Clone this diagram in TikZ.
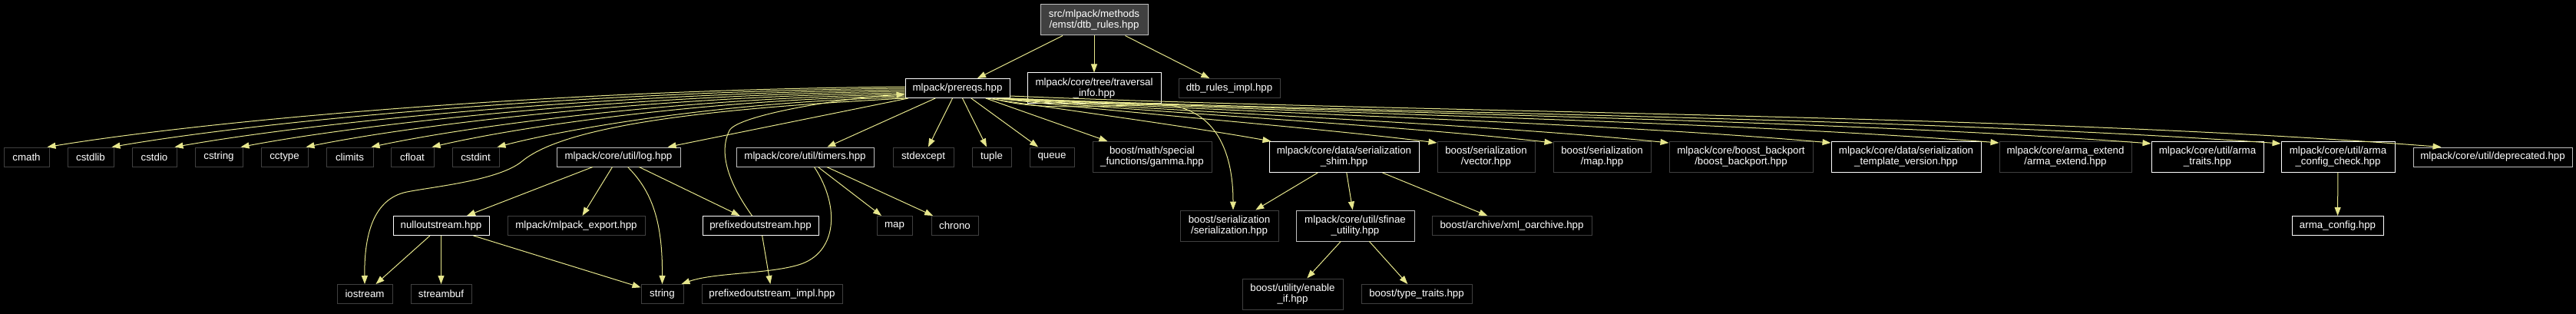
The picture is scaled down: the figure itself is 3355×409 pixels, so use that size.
\documentclass[tikz,border=0pt]{standalone}
\usepackage{fontspec}
\setmainfont{Liberation Sans}
\usetikzlibrary{arrows.meta}
\definecolor{edgec}{RGB}{230,230,140}
\definecolor{darkg}{RGB}{64,64,64}
\definecolor{lightg}{RGB}{191,191,191}
\definecolor{rootfill}{RGB}{64,64,64}
\begin{document}
\begin{tikzpicture}[x=1pt,y=-1pt,
  font=\fontsize{13.3}{14}\selectfont,
  base/.style={draw, line width=1pt, text=white, fill=black, inner sep=0pt, align=center},
  doc/.style={base, draw=white},
  docg/.style={base, draw=lightg},
  ext/.style={base, draw=darkg},
  rootn/.style={base, draw=lightg, fill=rootfill},
  one/.style={minimum height=25pt},
  two/.style={minimum height=40pt},
  dep/.style={draw=edgec, line width=1pt, -{Triangle[length=11pt,width=8pt]}}]
\fill[black] (0,0) rectangle (3355,409);
\useasboundingbox (0,0) rectangle (3355,409);

% row 1
\node[rootn, two, minimum width=140pt] (root) at (1425,26) {src/mlpack/methods\\/emst/dtb\_rules.hpp};
% row 2
\node[doc, one, minimum width=136pt] (prereqs) at (1247,115) {mlpack/prereqs.hpp};
\node[doc, two, minimum width=174pt] (trav) at (1425,115) {mlpack/core/tree/traversal\\\_info.hpp};
\node[ext, one, minimum width=132pt] (dtbimpl) at (1601,115) {dtb\_rules\_impl.hpp};
% row 3
\node[ext, one, minimum width=59pt] (cmath) at (34.5,204.5) {cmath};
\node[ext, one, minimum width=60pt] (cstdlib) at (118,204.5) {cstdlib};
\node[ext, one, minimum width=58pt] (cstdio) at (201,204.5) {cstdio};
\node[ext, one, minimum width=62pt] (cstring) at (285,204.5) {cstring};
\node[ext, one, minimum width=61pt] (cctype) at (370.5,204.5) {cctype};
\node[ext, one, minimum width=61pt] (climits) at (455.5,204.5) {climits};
\node[ext, one, minimum width=56pt] (cfloat) at (537,204.5) {cfloat};
\node[ext, one, minimum width=61pt] (cstdint) at (619.5,204.5) {cstdint};
\node[docg, one, minimum width=161pt] (log) at (805.5,204.5) {mlpack/core/util/log.hpp};
\node[docg, one, minimum width=179pt] (timers) at (1048.5,204.5) {mlpack/core/util/timers.hpp};
\node[ext, one, minimum width=79pt] (stdexcept) at (1202.5,204.5) {stdexcept};
\node[ext, one, minimum width=51pt] (tuple) at (1291.5,204.5) {tuple};
\node[ext, one, minimum width=58pt] (queue) at (1370,204.5) {queue};
\node[ext, two, minimum width=155pt] (gamma) at (1500.5,204.5) {boost/math/special\\\_functions/gamma.hpp};
\node[doc, two, minimum width=195pt] (shim) at (1750.5,204.5) {mlpack/core/data/serialization\\\_shim.hpp};
\node[ext, two, minimum width=127pt] (vector) at (1935.5,204.5) {boost/serialization\\/vector.hpp};
\node[ext, two, minimum width=127pt] (bmap) at (2086.5,204.5) {boost/serialization\\/map.hpp};
\node[ext, two, minimum width=187pt] (backport) at (2267.5,204.5) {mlpack/core/boost\_backport\\/boost\_backport.hpp};
\node[doc, two, minimum width=195pt] (tmplver) at (2482.5,204.5) {mlpack/core/data/serialization\\\_template\_version.hpp};
\node[ext, two, minimum width=172pt] (armaext) at (2690,204.5) {mlpack/core/arma\_extend\\/arma\_extend.hpp};
\node[doc, two, minimum width=146pt] (armatraits) at (2875,204.5) {mlpack/core/util/arma\\\_traits.hpp};
\node[doc, two, minimum width=148pt] (armacheck) at (3045,204.5) {mlpack/core/util/arma\\\_config\_check.hpp};
\node[docg, one, minimum width=207pt] (deprecated) at (3246.5,204.5) {mlpack/core/util/deprecated.hpp};
% row 4
\node[doc, one, minimum width=125pt] (nullout) at (574.5,294) {nulloutstream.hpp};
\node[ext, one, minimum width=179pt] (export) at (750.5,294) {mlpack/mlpack\_export.hpp};
\node[doc, one, minimum width=151pt] (prefixed) at (990.5,294) {prefixedoutstream.hpp};
\node[ext, one, minimum width=46pt] (map) at (1165,294) {map};
\node[ext, one, minimum width=61pt] (chrono) at (1243.5,294) {chrono};
\node[ext, two, minimum width=128pt] (sersz) at (1601,294) {boost/serialization\\/serialization.hpp};
\node[docg, two, minimum width=154pt] (sfinae) at (1765,294) {mlpack/core/util/sfinae\\\_utility.hpp};
\node[ext, one, minimum width=208pt] (xml) at (1969,294) {boost/archive/xml\_oarchive.hpp};
\node[doc, one, minimum width=119pt] (armacfg) at (3044.5,294) {arma\_config.hpp};
% row 5
\node[ext, one, minimum width=72pt] (iostream) at (475,383) {iostream};
\node[ext, one, minimum width=79pt] (streambuf) at (574.5,383) {streambuf};
\node[ext, one, minimum width=55pt] (string) at (862.5,383) {string};
\node[ext, one, minimum width=183pt] (pimpl) at (1005.5,383) {prefixedoutstream\_impl.hpp};
\node[ext, two, minimum width=131pt] (enableif) at (1683.5,383) {boost/utility/enable\\\_if.hpp};
\node[ext, one, minimum width=144pt] (typetraits) at (1845,383) {boost/type\_traits.hpp};

% root edges
\draw[dep] (root) -- (prereqs);
\draw[dep] (root) -- (trav);
\draw[dep] (root) -- (dtbimpl);

% left fan
\draw[dep] ([yshift=2pt]prereqs.west) .. controls (732,117) and (285,155) .. ([xshift=-3pt]cmath.north east);
\draw[dep] ([yshift=0pt]prereqs.west) .. controls (765,119) and (352,156) .. ([xshift=-3pt]cstdlib.north east);
\draw[dep] ([yshift=-2pt]prereqs.west) .. controls (798,121) and (417,158) .. ([xshift=-3pt]cstdio.north east);
\draw[dep] ([yshift=-4pt]prereqs.west) .. controls (833,123) and (486,159) .. ([xshift=-3pt]cstring.north east);
\draw[dep] ([yshift=-6pt]prereqs.west) .. controls (867,125) and (554,160) .. ([xshift=-3pt]cctype.north east);
\draw[dep] ([yshift=-8pt]prereqs.west) .. controls (901,127) and (622,162) .. ([xshift=-3pt]climits.north east);
\draw[dep] ([yshift=-10pt]prereqs.west) .. controls (932,129) and (685,163) .. ([xshift=-3pt]cfloat.north east);
\draw[dep] ([yshift=-12pt]prereqs.west) .. controls (966,131) and (753,164) .. ([xshift=-3pt]cstdint.north east);
% prereqs -> iostream
\draw[dep] ([xshift=2pt]prereqs.south west) .. controls (950,140) and (740,160) .. (680,210)
  .. controls (650,235) and (565,243) .. (530,250)
  .. controls (495,257) and (474,290) .. (iostream.north);
% prereqs -> row 3 direct
\draw[dep] (prereqs) -- (log);
\draw[dep] (prereqs) -- (timers);
\draw[dep] (prereqs) -- (stdexcept);
\draw[dep] (prereqs) -- (tuple);
\draw[dep] (prereqs) -- (queue);
\draw[dep] (prereqs) -- (gamma);
\draw[dep] ([xshift=-30pt]prereqs.south east) .. controls (1400,145) and (1550,165) .. ([xshift=3pt]shim.north west);
% prereqs -> serialization.hpp
\draw[dep] ([xshift=-23pt]prereqs.south east) .. controls (1340,142) and (1400,140) .. (1500,136)
  .. controls (1570,133) and (1606,180) .. ([xshift=5pt]sersz.north);
% right fan
\draw[dep] ([xshift=-19pt]prereqs.south east) .. controls (1475,148) and (1702,165) .. ([yshift=-2pt]vector.north west);
\draw[dep] ([xshift=-16pt]prereqs.south east) .. controls (1520,148) and (1808,162) .. ([yshift=-2pt]bmap.north west);
\draw[dep] ([xshift=-13pt]prereqs.south east) .. controls (1566,148) and (1913,160) .. ([yshift=-2pt]backport.north west);
\draw[dep] ([xshift=-10pt]prereqs.south east) .. controls (1629,148) and (2061,158) .. ([yshift=-2pt]tmplver.north west);
\draw[dep] ([xshift=-7pt]prereqs.south east) .. controls (1695,148) and (2214,156) .. ([yshift=-2pt]armaext.north west);
\draw[dep] ([xshift=-4pt]prereqs.south east) .. controls (1754,148) and (2353,154) .. ([yshift=-3pt]armatraits.north west);
\draw[dep] ([xshift=-1pt]prereqs.south east) .. controls (1805,148) and (2471,152) .. ([yshift=-3pt]armacheck.north west);
\draw[dep] ([yshift=-10pt]prereqs.east) .. controls (1868,148) and (2618,148) .. ([xshift=37pt]deprecated.north west);

% prefixedoutstream -> prereqs
\draw[dep] ([xshift=-11pt]prefixed.north) .. controls (950,240) and (935,200) .. (950,170)
  .. controls (960,150) and (1100,127) .. ([yshift=-8pt]prereqs.west);

% log edges
\draw[dep] (log) -- (nullout);
\draw[dep] (log) -- (export);
\draw[dep] ([xshift=12pt]log.south) .. controls (850,250) and (863,290) .. (string.north);
\draw[dep] (log) -- (prefixed);

% nulloutstream edges
\draw[dep] (nullout) -- (iostream);
\draw[dep] (nullout) -- (streambuf);
\draw[dep] (nullout) -- (string);

% timers edges
\draw[dep] (timers) -- (map);
\draw[dep] (timers) -- (chrono);
\draw[dep] ([xshift=12pt]timers.south) .. controls (1095,270) and (1090,330) .. (1040,345)
  .. controls (1000,357) and (930,355) .. ([xshift=-3pt]string.north east);

% prefixed edge
\draw[dep] (prefixed) -- (pimpl);

% shim edges
\draw[dep] (shim) -- (sersz);
\draw[dep] (shim) -- (sfinae);
\draw[dep] (shim) -- (xml);

% sfinae edges
\draw[dep] (sfinae) -- (enableif);
\draw[dep] (sfinae) -- (typetraits);

% arma config
\draw[dep] (armacheck) -- (armacfg);
\end{tikzpicture}
\end{document}
